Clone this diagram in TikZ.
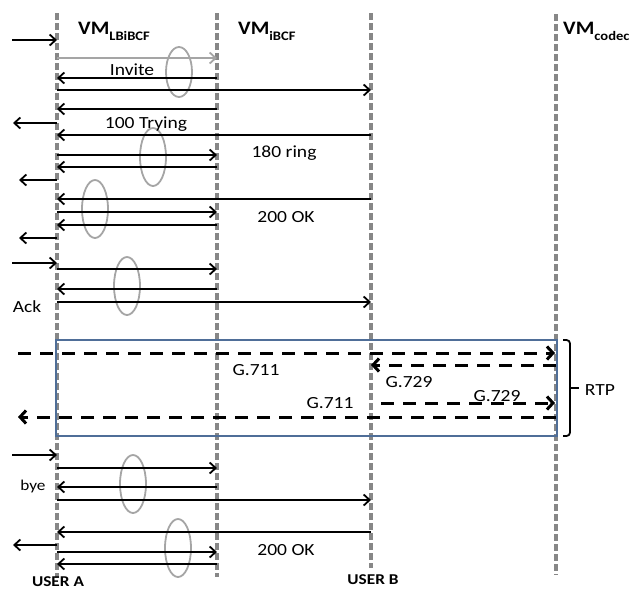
\documentclass[tikz,border=0pt]{standalone}
\usepackage{fontspec}
\setmainfont{Carlito}
\usetikzlibrary{arrows.meta,shapes.geometric}
\definecolor{lifegray}{RGB}{135,135,135}
\definecolor{ovalgray}{RGB}{165,165,165}
\definecolor{boxblue}{RGB}{79,110,152}
\newcommand\seqmsg[4][msg]{\draw[#1] (#2 |- 0,#4) -- (#3 |- 0,#4);}
\begin{document}
\begin{tikzpicture}[x=1pt,y=-1pt,
  life/.style={draw=lifegray, line width=3.2pt, dash pattern=on 7pt off 3pt},
  msg/.style={draw=black, line width=1.8pt, -{Straight Barb[length=6pt,width=11pt]}},
  graymsg/.style={msg, draw=ovalgray},
  rtpmsg/.style={draw=black, line width=3pt, dash pattern=on 13pt off 9pt, -{Straight Barb[length=6pt,width=13pt]}},
  oval/.style={ellipse, draw=ovalgray, line width=1.8pt, minimum width=26pt, minimum height=58pt, inner sep=0pt},
  lbl/.style={font=\fontsize{17}{20}\selectfont, xscale=1.15, inner sep=0pt, anchor=base},
  hdr/.style={font=\fontsize{19}{21}\selectfont\bfseries, xscale=1.12, inner sep=0pt, anchor=base west},
  usr/.style={font=\fontsize{15}{18}\selectfont\bfseries, xscale=1.15, inner sep=0pt, anchor=base}]
\useasboundingbox (0,0) rectangle (639,590);
% lifelines
\coordinate (A) at (57,13);  \coordinate (Aend) at (57,578);
\coordinate (B) at (217,13); \coordinate (Bend) at (217,577);
\coordinate (C) at (371,13); \coordinate (Cend) at (371,568);
\coordinate (D) at (556,14); \coordinate (Dend) at (556,575);
\coordinate (inL) at (12,0);
\coordinate (outL) at (13,0);
\coordinate (outM) at (19,0);
\coordinate (rtpL) at (18,0);
\coordinate (rtpR) at (555,0);
\coordinate (rtpC) at (381,0);
\draw[life] (A) -- (Aend);
\draw[life] (B) -- (Bend);
\draw[life] (C) -- (Cend);
\draw[life] (D) -- (Dend);
% headers
\node[hdr] (hA) at (78,34) {VM\raisebox{-6pt}{\fontsize{13}{15}\selectfont LBiBCF}};
\node[hdr] (hB) at (238,34) {VM\raisebox{-6pt}{\fontsize{13}{15}\selectfont iBCF}};
\node[hdr] (hD) at (563,34) {VM\raisebox{-6pt}{\fontsize{13}{15}\selectfont codec}};
% ovals
\node[oval, minimum height=50pt] (e1) at (179,72) {};
\node[oval] (e2) at (153,157) {};
\node[oval] (e3) at (95,209) {};
\node[oval] (e4) at (127,286) {};
\node[oval] (e5) at (133,484) {};
\node[oval] (e6) at (178,548) {};
% signalling, call set-up
\seqmsg{inL}{A}{40}
\seqmsg[graymsg]{A}{B}{58}
\seqmsg{B}{A}{78}
\seqmsg{A}{C}{90}
\seqmsg{B}{A}{109}
\seqmsg{A}{outL}{123}
\seqmsg{C}{A}{135}
\seqmsg{A}{B}{155}
\seqmsg{B}{A}{167}
\seqmsg{A}{outM}{180}
\seqmsg{C}{A}{199}
\seqmsg{A}{B}{212}
\seqmsg{B}{A}{225}
\seqmsg{A}{outM}{238}
\seqmsg{inL}{A}{263}
\seqmsg{A}{B}{269}
\seqmsg{B}{A}{289}
\seqmsg{A}{C}{302}
\node[lbl] (invite) at (132,75) {Invite};
\node[lbl] (trying) at (146,128) {100 Trying};
\node[lbl] (ring) at (284,157) {180 ring};
\node[lbl] (ok1) at (286,222) {200 OK};
\node[lbl] (ack) at (27,312) {Ack};
% RTP
\node[draw=boxblue, line width=1.8pt, minimum width=501pt, minimum height=96pt, inner sep=0pt] (box) at (306.5,388) {};
\seqmsg[rtpmsg]{rtpL}{rtpR}{353}
\seqmsg[rtpmsg]{D}{C}{365}
\seqmsg[rtpmsg]{rtpC}{rtpR}{403}
\seqmsg[rtpmsg]{D}{rtpL}{417}
\node[lbl] (g711a) at (256,375) {G.711};
\node[lbl] (g729a) at (409,387) {G.729};
\node[lbl] (g711b) at (330,408) {G.711};
\node[lbl] (g729b) at (497,401) {G.729};
\draw[line width=1.8pt, rounded corners=3.5pt] (563,340) -- (570,340) -- (570,436) -- (563,436);
\node[lbl] (rtp) at (600,395) {RTP};
\draw[line width=1.8pt] (570,388) -- ([xshift=-6pt]rtp.west |- 0,388);
% tear-down
\seqmsg{inL}{A}{455}
\seqmsg{A}{B}{468}
\seqmsg{B}{A}{487}
\seqmsg{A}{C}{500}
\seqmsg{C}{A}{532}
\seqmsg{A}{outL}{545}
\seqmsg{A}{B}{552}
\seqmsg{B}{A}{564}
\node[lbl, font=\fontsize{15}{18}\selectfont] (bye) at (33,490) {bye};
\node[lbl] (ok2) at (286,555) {200 OK};
\node[usr] (ua) at (58,586) {USER A};
\node[usr] (ub) at (373,584) {USER B};
\end{tikzpicture}
\end{document}
